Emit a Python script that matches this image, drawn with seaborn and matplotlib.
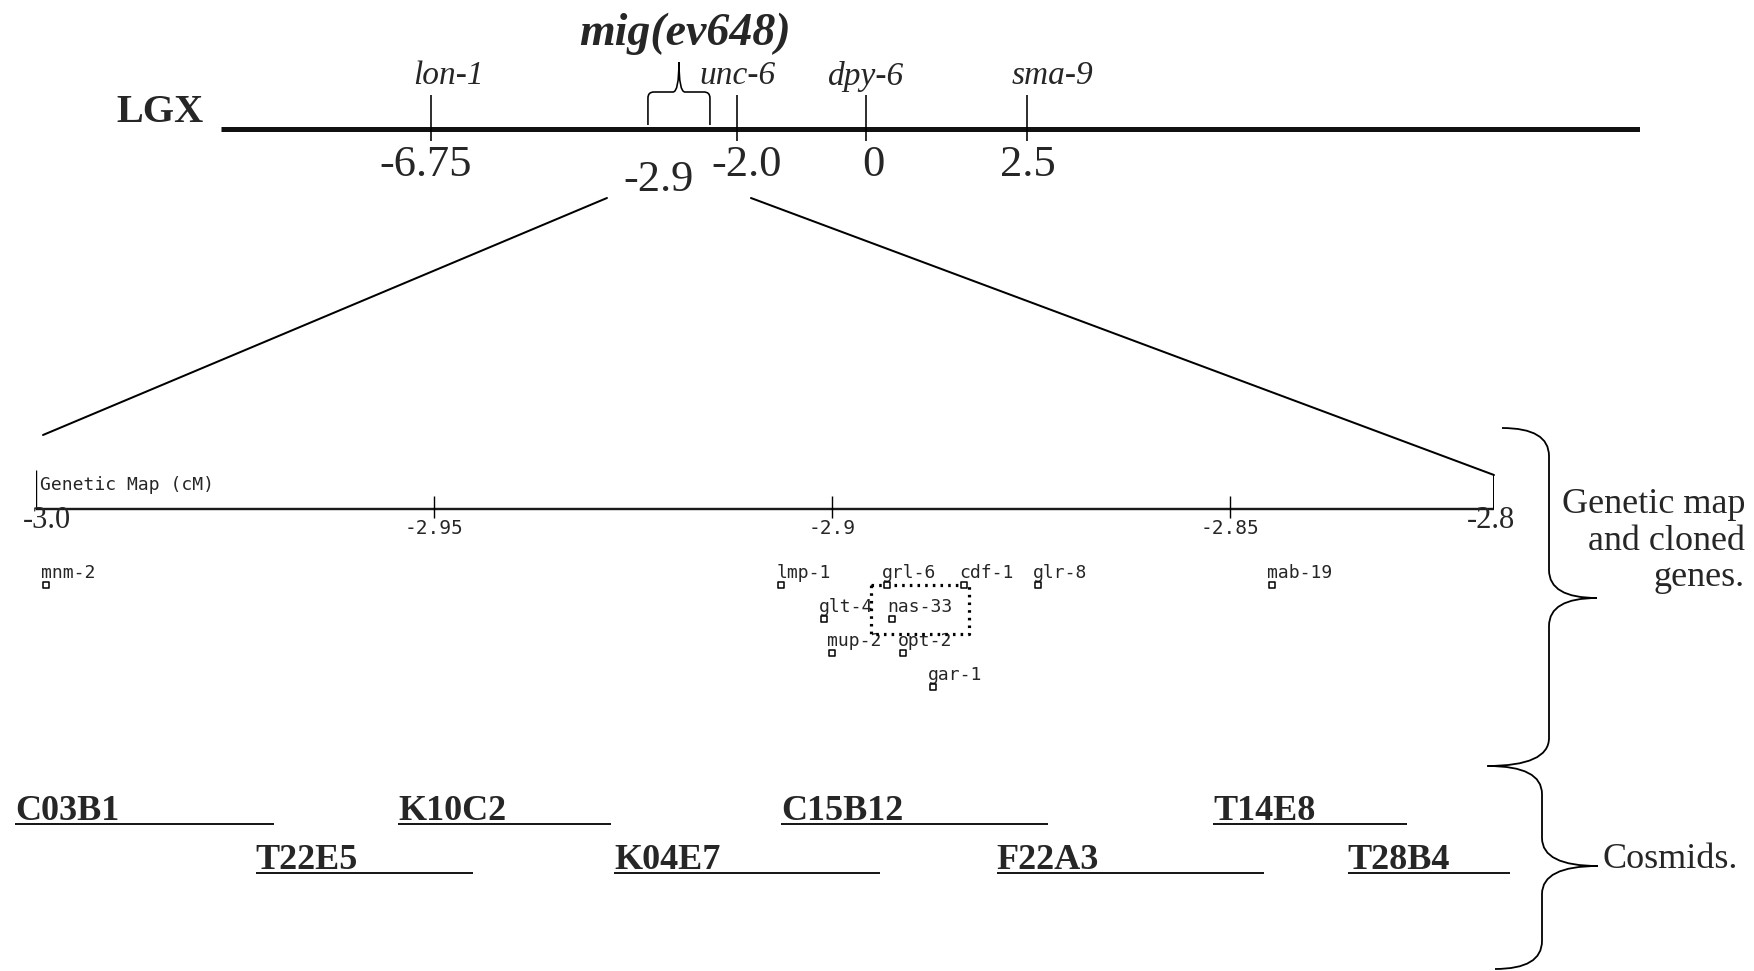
import numpy as np
import matplotlib
matplotlib.use("Agg")
import matplotlib.pyplot as plt
from matplotlib.path import Path
from matplotlib.patches import PathPatch
import seaborn as sns

# ---------------- data ----------------
# Chromosome X (LGX) overview, positions in cM
lgx_markers = ["lon-1", "unc-6", "dpy-6", "sma-9"]
lgx_positions = [-6.75, -2.0, 0.0, 2.5]
lgx_pos_labels = ["-6.75", "-2.0", "0", "2.5"]
mig_name = "mig(ev648)"
mig_position = -2.9
mig_pos_label = "-2.9"

# Expanded genetic map (cM)
map_start, map_end = -3.0, -2.8
map_ticks = [-2.95, -2.9, -2.85]
map_tick_labels = ["-2.95", "-2.9", "-2.85"]
map_end_labels = ["-3.0", "-2.8"]
map_title = "Genetic Map (cM)"

genes = ["mnm-2", "lmp-1", "grl-6", "cdf-1", "glr-8", "glt-4",
         "nas-33", "mup-2", "opt-2", "gar-1", "mab-19"]
gene_positions = [-2.9987, -2.9064, -2.8931, -2.8834, -2.8741, -2.9010,
                  -2.8925, -2.9000, -2.8911, -2.8873, -2.8421]
gene_lanes = [0, 0, 0, 0, 0, 1, 1, 2, 2, 3, 0]
candidate_region = [-2.8951, -2.8828]
candidate_lanes = [0.0, 1.45]

# Cosmids (extent along the expanded map, cM)
cosmids = ["C03B1", "K10C2", "C15B12", "T14E8", "T22E5", "K04E7", "F22A3", "T28B4"]
cosmid_starts = [-3.0026, -2.9545, -2.9064, -2.8521, -2.9724, -2.9274, -2.8793, -2.8277]
cosmid_ends = [-2.9701, -2.9278, -2.8729, -2.8165, -2.9451, -2.8940, -2.8436, -2.7970]
cosmid_rows = [0, 0, 0, 0, 1, 1, 1, 1]

side_labels = ["Genetic map\nand cloned\ngenes.", "Cosmids."]

# ---------------- layout / style ----------------
W, H, DPI = 1754, 971, 100
PT = 72.0 / DPI  # points per pixel

sns.set_theme(style="white")
plt.rcParams['font.family'] = ['DejaVu Sans']
SERIF = ['Liberation Serif', 'DejaVu Serif']
MONO = ['DejaVu Sans Mono', 'Liberation Mono']

fig = plt.figure(figsize=(W / DPI, H / DPI), dpi=DPI)
fig.patch.set_facecolor('white')


def make_axes(x0_px, x1_px):
    ax = fig.add_axes([x0_px / W, 0, (x1_px - x0_px) / W, 1])
    ax.set_ylim(H, 0)
    ax.set_axis_off()
    ax.patch.set_alpha(0)
    return ax


# pixel overlay for decorations
ax_px = make_axes(0, W)
ax_px.set_xlim(0, W)

# ---- top overview map (schematic, linear in cM) ----
ax_top = make_axes(221, 1640)
ax_top.set_xlim(-10, 12)
LINE_Y = 129
ax_top.hlines(LINE_Y, -10, 12, lw=5 * PT, color='#111111')
ax_top.vlines(lgx_positions, 95, 141, lw=1.6 * PT, color='black')

name_offsets = [18, 0, 0, 25]
num_offsets = [-5, 10, 7, 1]
for name, pos, lab, no, po in zip(lgx_markers, lgx_positions, lgx_pos_labels,
                                  name_offsets, num_offsets):
    ax_top.annotate(name, (pos, 76), xytext=(no * PT, 0), textcoords='offset points',
                    ha='center', va='center', style='italic', family=SERIF, size=24)
    ax_top.annotate(lab, (pos, 165), xytext=(po * PT, 0), textcoords='offset points',
                    ha='center', va='center', family=SERIF, size=32)

ax_top.annotate(mig_name, (mig_position, 34), xytext=(6 * PT, 0), textcoords='offset points',
                ha='center', va='center', style='italic', weight='bold', family=SERIF, size=33)
ax_top.annotate(mig_pos_label, (mig_position, 180), xytext=(-20 * PT, 0),
                textcoords='offset points', ha='center', va='center', family=SERIF, size=32)

ax_px.text(204, 112, "LGX", ha='right', va='center', weight='bold', family=SERIF, size=29)

# ---- expanded genetic map ----
ax_mid = make_axes(36, 1494)
BREAK, SQUEEZE = -2.85, 0.663   # last interval drawn compressed, as in the original


def fwd(x):
    x = np.asarray(x, dtype=float)
    return np.where(x <= BREAK, x, BREAK + (x - BREAK) * SQUEEZE)


def inv(u):
    u = np.asarray(u, dtype=float)
    return np.where(u <= BREAK, u, BREAK + (u - BREAK) / SQUEEZE)


ax_mid.set_xscale('function', functions=(fwd, inv))
ax_mid.set_xlim(map_start, map_end)

AXIS_Y = 509
ax_mid.hlines(AXIS_Y, map_start, map_end, lw=2.4 * PT, color='#1a1a1a')
ax_mid.vlines(map_start, 470, AXIS_Y, lw=1.4 * PT, color='black')
ax_mid.vlines(map_end, 475, AXIS_Y, lw=2 * PT, color='black')
ax_mid.vlines(map_ticks, 496, 518, lw=1.4 * PT, color='black')
ax_mid.annotate(map_title, (map_start, 485), xytext=(4 * PT, 0), textcoords='offset points',
                ha='left', va='center', family=MONO, size=13)
for t, lab in zip(map_ticks, map_tick_labels):
    ax_mid.text(t, 528, lab, ha='center', va='center', family=MONO, size=14)
ax_mid.annotate(map_end_labels[0], (map_start, 521), xytext=(11 * PT, 0),
                textcoords='offset points', ha='center', va='center', family=SERIF, size=22)
ax_mid.annotate(map_end_labels[1], (map_end, 521), xytext=(-3 * PT, 0),
                textcoords='offset points', ha='center', va='center', family=SERIF, size=22)

LANE0, LANE_STEP = 585, 34
gene_y = [LANE0 + l * LANE_STEP for l in gene_lanes]
sns.scatterplot(x=gene_positions, y=gene_y, ax=ax_mid, marker='s', s=20,
                color='white', edgecolor='black', linewidth=1.1, zorder=4,
                legend=False, clip_on=False)
for g, x, y in zip(genes, gene_positions, gene_y):
    ax_mid.annotate(g, (x, y), xytext=(-5 * PT, 12 * PT), textcoords='offset points',
                    ha='left', va='center', family=MONO, size=13)

bx0, bx1 = candidate_region
by0, by1 = [LANE0 + l * LANE_STEP for l in candidate_lanes]
ax_mid.plot([bx0, bx1, bx1, bx0, bx0], [by0, by0, by1, by1, by0],
            ls=(0, (0.8, 1.6)), lw=2.3, color='black', zorder=3)

# ---- cosmids ----
ROW0, ROW_STEP = 824, 49
for name, s, e, r in zip(cosmids, cosmid_starts, cosmid_ends, cosmid_rows):
    y = ROW0 + r * ROW_STEP
    ax_mid.hlines(y, s, e, lw=2 * PT, color='#1a1a1a', clip_on=False)
    ax_mid.text(s, y - 4, name, ha='left', va='baseline', weight='bold',
                family=SERIF, size=26, clip_on=False)

ax_mid.set_xlim(map_start, map_end)
ax_mid.set_ylim(H, 0)


# ---- zoom connector lines ----
def to_px(ax, x):
    return ax.transData.transform((x, 0))[0]


mig_px = to_px(ax_top, mig_position)
left_end = to_px(ax_mid, map_start) + 7
right_end = to_px(ax_mid, map_end)
ax_px.plot([mig_px - 72, left_end], [198, 435], color='black', lw=2 * PT)
ax_px.plot([mig_px + 72, right_end], [198, 475], color='black', lw=2 * PT)

# mig bracket
verts = [(mig_px - 31, LINE_Y - 4), (mig_px - 31, 98), (mig_px - 31, 92), (mig_px - 25, 92),
         (mig_px - 6, 92), (mig_px, 92), (mig_px, 62),
         (mig_px, 92), (mig_px + 6, 92), (mig_px + 25, 92),
         (mig_px + 31, 92), (mig_px + 31, 98), (mig_px + 31, LINE_Y - 4)]
codes = [Path.MOVETO, Path.LINETO, Path.CURVE3, Path.CURVE3, Path.LINETO, Path.CURVE3, Path.CURVE3,
         Path.CURVE3, Path.CURVE3, Path.LINETO, Path.CURVE3, Path.CURVE3, Path.LINETO]
ax_px.add_patch(PathPatch(Path(verts, codes), fill=False, lw=1.6 * PT, color='black'))


# ---- right-hand braces ----
def brace(ax, hook_top, hook_bot, xv, y0, y1, ytip, xtip, r=28):
    v = [(hook_top, y0), (xv, y0), (xv, y0 + r),
         (xv, ytip - r), (xv, ytip), (xtip, ytip),
         (xv, ytip), (xv, ytip + r),
         (xv, y1 - r), (xv, y1), (hook_bot, y1)]
    c = [Path.MOVETO, Path.CURVE3, Path.CURVE3,
         Path.LINETO, Path.CURVE3, Path.CURVE3,
         Path.CURVE3, Path.CURVE3,
         Path.LINETO, Path.CURVE3, Path.CURVE3]
    ax.add_patch(PathPatch(Path(v, c), fill=False, lw=1.8 * PT, color='black'))


brace(ax_px, 1502, 1487, 1549, 428, 766, 598, 1597)
brace(ax_px, 1488, 1495, 1542, 766, 969, 866, 1598)

ax_px.text(1745, 541, side_labels[0], ha='right', va='center', multialignment='right',
           family=SERIF, size=26, linespacing=1.15)
ax_px.text(1602, 860, side_labels[1], ha='left', va='center', family=SERIF, size=26)

fig.savefig("out.png", dpi=DPI, facecolor='white')
